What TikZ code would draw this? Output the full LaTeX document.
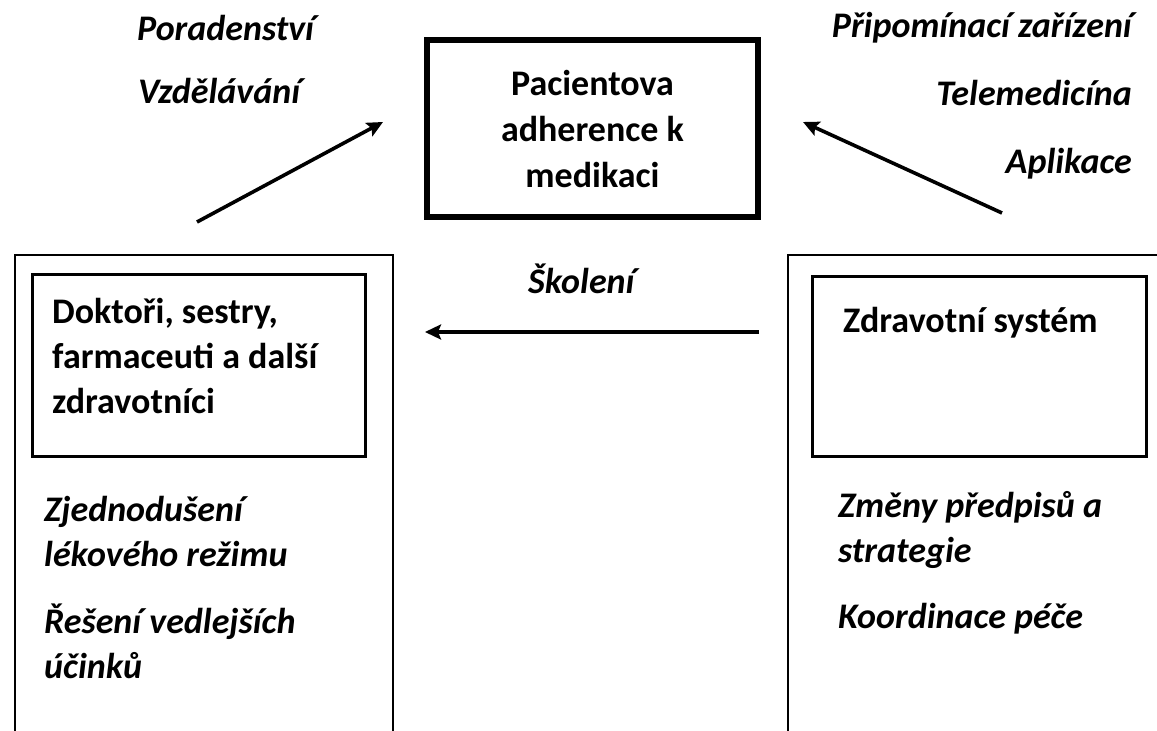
\documentclass[tikz,border=0pt]{standalone}
\usepackage{fontspec}
\setmainfont{Carlito}
\usetikzlibrary{arrows.meta,positioning}

\begin{document}
\begin{tikzpicture}[
  x=1pt, y=1pt,
  mainbox/.style={
    draw, line width=5.5pt,
    minimum width=331pt, minimum height=177pt,
    align=center, font=\fontsize{36}{46}\selectfont\bfseries
  },
  framebox/.style={draw, line width=2.6pt, anchor=north west, inner sep=0pt},
  actorbox/.style={draw, line width=2.6pt, inner sep=0pt},
  actortxt/.style={
    anchor=base west, inner sep=0pt, align=left,
    font=\fontsize{36}{45}\selectfont\bfseries
  },
  measure/.style={
    anchor=base west, inner sep=0pt, align=left,
    font=\fontsize{36}{45}\selectfont\bfseries\itshape
  },
  measurer/.style={measure, anchor=base east, align=right},
  arr/.style={-{Stealth[length=16pt, width=15pt, inset=3pt]}, line width=3.6pt}
]
  \useasboundingbox (0,0) rectangle (1157,-731);

  % ── Centre: adherence ──
  \node[mainbox] (adh) at (592.5,-128.5) {Pacientova\\adherence k\\medikaci};

  % ── Outer frames (open at the bottom) ──
  \node[framebox, minimum width=378pt, minimum height=520pt] (hpframe) at (13.5,-253.5) {};
  \node[framebox, minimum width=420pt, minimum height=520pt] (hsframe) at (786.5,-253.5) {};

  % ── Actor boxes ──
  \node[actorbox, minimum width=333pt, minimum height=182pt] (staff) at (199,-365.5) {};
  \node[actortxt] (stafftxt) at (52,-413) {Doktoři, sestry,\\farmaceuti a další\\zdravotníci};

  \node[actorbox, minimum width=334pt, minimum height=180pt] (system) at (979.5,-366.5) {};
  \node[actortxt] (systemtxt) at (843,-332) {Zdravotní systém};

  % ── Measures inside the frames ──
  \node[measure] (simplify) at (44,-566) {Zjednodušení\\lékového režimu};
  \node[measure] (sideeff) at (44,-678) {Řešení vedlejších\\účinků};
  \node[measure] (rxchange) at (838,-562) {Změny předpisů a\\strategie};
  \node[measure] (carecoord) at (838,-628) {Koordinace péče};

  % ── Measures towards the patient ──
  \node[measure] (counsel) at (137,-40) {Poradenství};
  \node[measure] (educ) at (138,-103) {Vzdělávání};
  \node[measurer] (remind) at (1132,-37) {Připomínací zařízení};
  \node[measurer] (telemed) at (1132,-105) {Telemedicína};
  \node[measurer] (apps) at (1132,-173) {Aplikace};
  \node[measure] (train) at (528,-293) {Školení};

  % ── Arrows ──
  \coordinate (hpout) at (197,-222);
  \coordinate (hpin) at (383,-122);
  \coordinate (hsout) at (1002,-213);
  \coordinate (hsin) at (803,-122);
  \coordinate (trainout) at (759,-332);
  \coordinate (trainin) at (425,-332);

  \draw[arr] (hpout) -- (hpin);
  \draw[arr] (hsout) -- (hsin);
  \draw[arr] (trainout) -- (trainin);

\end{tikzpicture}
\end{document}
